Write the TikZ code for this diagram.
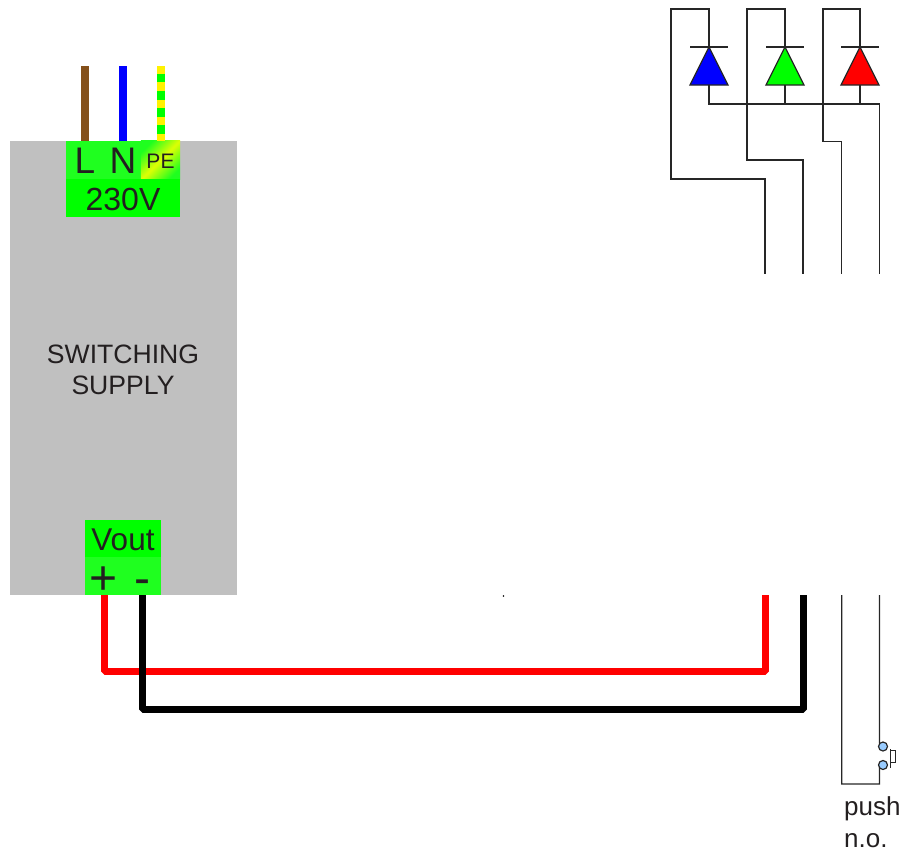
\documentclass[tikz,border=0pt]{standalone}
\usepackage{fontspec}
\setmainfont{Liberation Sans}
\usepackage{xcolor}
\usepackage{tikz}
\usetikzlibrary{calc}
\definecolor{termgreen}{HTML}{00FF00}
\definecolor{slotgreen}{HTML}{1FFF1F}
\definecolor{supplygrey}{HTML}{C0C0C0}
\definecolor{inkgrey}{HTML}{231F20}
\definecolor{brownwire}{HTML}{84501A}
\definecolor{contactblue}{HTML}{99CCFF}
\tikzset{
	term/.style={rectangle, fill=termgreen, inner sep=0pt, text=inkgrey},
	slot/.style={rectangle, fill=slotgreen, inner sep=0pt, text=inkgrey},
	lbl/.style={inner sep=0pt, text=inkgrey},
	mains/.style={line width=8pt},
	power/.style={line width=7pt, line join=bevel},
	wire/.style={line width=1.3pt, draw=black!85},
	led/.style={draw=black!85, line width=1.3pt, line join=miter},
	contact/.style={circle, draw=black!85, fill=contactblue, line width=1.2pt, minimum size=9pt, inner sep=0pt}
}
\begin{document}
\begin{tikzpicture}[x=1pt,y=-1pt]
	\useasboundingbox (0,0) rectangle (906,854);

	% supply
	\node (supply) [rectangle, fill=supplygrey, minimum width=227pt, minimum height=454pt, inner sep=0pt] at (123.5,368) {};
	\node [lbl, align=center, font=\fontsize{26.6}{31}\selectfont] (name) at (123,369.7) {SWITCHING\\SUPPLY};

	\node (l) [slot, minimum width=38pt, minimum height=38pt] at (85,160) {};
	\node (n) [slot, minimum width=38pt, minimum height=38pt] at (123,160) {};
	\node (pe) [rectangle, minimum width=39pt, minimum height=38pt, inner sep=0pt] at (160.5,160) {};
	\fill [left color=slotgreen, right color=slotgreen, middle color=yellow!85!slotgreen, shading angle=45] (pe.south west) rectangle (pe.north east);
	\node [lbl, font=\fontsize{37}{37}\selectfont] (llabel) at (85,161) {L};
	\node [lbl, font=\fontsize{37}{37}\selectfont] (nlabel) at (123,161) {N};
	\node [lbl, font=\fontsize{21}{21}\selectfont] (pelabel) at (160.5,161) {PE};
	\node (ac) [term, minimum width=114pt, minimum height=38pt] at (123,198) {};
	\node [lbl, font=\fontsize{32}{32}\selectfont] (aclabel) at (123,199) {230V};

	\node (vout) [term, minimum width=76pt, minimum height=37pt] at (123,538.5) {};
	\node (plus) [slot, minimum width=38pt, minimum height=38pt] at (104,576) {};
	\node (minus) [slot, minimum width=38pt, minimum height=38pt] at (142,576) {};
	\node [lbl, font=\fontsize{31.5}{31.5}\selectfont] (voutlabel) at (123,539.5) {Vout};
	\node [lbl, anchor=base, font=\fontsize{48}{48}\selectfont] (pluslabel) at (104,594.5) {+};
	\node [lbl, anchor=base, font=\fontsize{48}{48}\selectfont] (minuslabel) at (142,594.5) {-};

	% mains
	\coordinate (lend) at (85,66);
	\coordinate (nend) at (123,66);
	\coordinate (pend) at (161,66);
	\draw [mains, draw=brownwire] (lend) -- (l.north);
	\draw [mains, draw=blue] (nend) -- (n.north);
	\draw [mains, draw=yellow] (pend) -- (pend |- pe.north);
	\draw [mains, draw=termgreen, dash pattern=on 8.7pt off 8.6pt] ($(pend)+(0,7.5)$) -- (pend |- pe.north);

	% leds
	\foreach \led/\col/\x/\wl/\wr/\turn in {blue/blue/709/671/765/179, green/termgreen/785/747/803/160, red/red/860/823/841.8/141.7}{
		\coordinate (\led-top) at (\x,47);
		\coordinate (\led-base) at (\x,85);
		\draw [led, fill=\col] (\led-top) -- (\x+19,85) -- (\x-19,85) -- cycle;
		\draw [wire] (\x-19,47) -- (\x+19,47);
		\coordinate (\led-foot) at (\wr,274);
		\draw [wire] (\led-top) -- (\x,9) -- (\wl,9) -- (\wl,\turn) -- (\wr,\turn) -- (\led-foot);
	}
	\coordinate (ret) at (879.5,274);
	\draw [wire] (blue-base) |- (ret |- 0,104) -- (ret);
	\draw [wire] (green-base) -- (785,104);
	\draw [wire] (red-base) -- (860,104);

	% output
	\coordinate (redend) at (765,595);
	\coordinate (blackend) at (803,595);
	\draw [power, draw=red] (plus.south) -- (104,671) -- (765,671) -- (redend);
	\draw [power, draw=black] (minus.south) -- (142,709) -- (803,709) -- (blackend);
	\fill [black] (503.5,596) circle (0.8pt);

	% push button
	\node (c1) [contact] at (883,746.5) {};
	\node (c2) [contact] at (883,765) {};
	\coordinate (pa) at (841.8,595);
	\coordinate (pb) at (879.5,595);
	\draw [wire] (pb) -- (879.5,743) -- (c1);
	\draw [wire] (pa) |- (879.5,784) -- (879.5,768) -- (c2);
	\draw [wire, line width=1pt] (890.5,749) -- (890.5,768);
	\draw [wire, line width=1pt] (890.5,750) -- (895,750) -- (895,762) -- (890.5,762);
	\node [lbl, anchor=base west, font=\fontsize{26}{26}\selectfont] (push) at (844,815) {push};
	\node [lbl, anchor=base west, font=\fontsize{26}{26}\selectfont] (no) at (844,847) {n.o.};
\end{tikzpicture}
\end{document}
